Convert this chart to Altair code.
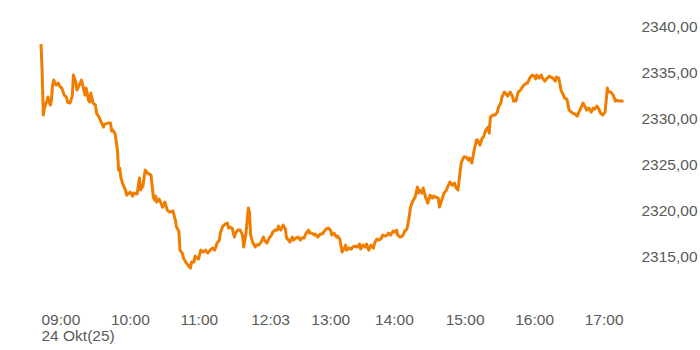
import altair as alt
import pandas as pd

# minutes of trading session since 09:00 (index of observation) and price
minutes = [0, 1, 2, 3, 5, 6, 8, 9, 10, 11, 13, 15, 16, 18, 20, 22, 23, 25, 27, 28,
           30, 31, 33, 35, 36, 38, 39, 41, 42, 43, 45, 47, 48, 50, 52, 54, 55, 58, 60, 61,
           62, 64, 66, 67, 68, 69, 71, 73, 74, 77,
           79, 80, 83, 85, 86, 88, 90, 92, 95, 97, 98, 99, 100, 102, 104, 105, 107, 109, 111, 114,
           116, 117, 119, 120, 122, 123, 125, 127, 129, 130, 132, 133, 135, 136, 138, 140, 142, 144, 146, 148,
           150, 152, 154, 155, 157, 159, 161, 162,
           163, 165, 167, 168, 170, 172, 174, 175, 177, 179, 180, 181, 183, 185, 186, 188, 190, 192, 193, 195,
           197, 199, 200, 202, 204, 205, 207, 209, 211, 212, 213, 215, 217, 218, 220, 222, 224, 225, 227, 229,
           231, 232, 234, 236, 237, 239, 241, 243,
           244, 246, 248, 250, 251, 253, 255, 256, 258, 260, 262, 263, 264, 266, 268, 269, 271, 273, 275, 276,
           278, 280, 281, 283, 285, 287, 288, 290, 292, 294, 295, 297, 299, 300, 302, 304, 306, 307, 308, 310,
           312, 313, 314, 316, 318, 319, 321, 323, 325, 326,
           327, 329, 330, 332, 334, 336, 338, 339, 341, 343, 344, 346, 348, 350, 351, 353, 355, 357, 358, 360,
           362, 363, 365, 367, 369, 370, 372, 374, 376, 377, 379, 381, 382, 384, 386, 387, 388, 390, 392, 394,
           395, 397, 398, 400, 401, 403, 405, 407, 408, 410,
           412, 414, 415, 417, 419, 420, 422, 424, 426, 427, 428, 430, 432, 433, 435, 437, 439, 440, 442, 444,
           445, 447, 449, 451, 452, 454, 456, 458, 459, 461, 463, 464, 466, 468, 470, 471, 473, 475, 477, 478,
           480, 482, 483, 485, 487, 489, 490, 492, 494, 496, 497, 499, 501, 503]

prices = [2338.05, 2335.02, 2330.36, 2331.12, 2331.87, 2332.31, 2331.44, 2331.98, 2333.61, 2334.15,
          2333.61, 2333.82, 2333.50, 2333.28, 2332.52, 2332.31, 2331.77, 2331.66, 2332.42, 2334.69,
          2333.93, 2333.07, 2333.61, 2334.15, 2333.61, 2332.52, 2333.28, 2331.98, 2331.77, 2332.74,
          2331.66, 2331.44, 2330.57, 2330.14, 2329.60, 2329.06, 2329.38, 2329.49, 2329.49, 2328.62,
          2328.73, 2328.30, 2326.57, 2324.40, 2324.62, 2323.53, 2322.77, 2322.23, 2321.69, 2322.02,
          2321.58, 2321.91, 2321.80, 2323.53, 2322.23, 2322.67, 2324.40, 2324.07, 2323.86, 2321.47,
          2321.15, 2321.58, 2320.93, 2321.26, 2320.72, 2320.39, 2320.93, 2320.07, 2319.85, 2319.96,
          2318.98, 2318.22, 2317.79, 2315.73, 2315.41, 2314.87, 2314.43, 2314.11, 2313.78, 2314.43,
          2314.43, 2315.08, 2314.87, 2314.76, 2315.73, 2315.52, 2315.73, 2315.41, 2315.73, 2315.95,
          2315.73, 2316.49, 2316.82, 2317.68, 2318.33, 2318.55, 2318.66, 2318.12,
          2318.22, 2318.12, 2317.14, 2317.57, 2317.90, 2317.90, 2317.36, 2316.06, 2317.57, 2320.28,
          2319.85, 2317.36, 2316.49, 2316.06, 2316.27, 2316.27, 2316.60, 2317.14, 2316.82, 2316.49,
          2317.03, 2317.36, 2317.68, 2317.90, 2317.90, 2318.33, 2317.90, 2318.44, 2318.01, 2317.03,
          2316.92, 2316.60, 2317.14, 2316.82, 2317.03, 2317.14, 2316.82, 2317.03, 2317.03, 2317.57,
          2317.90, 2317.57, 2317.57, 2317.36, 2317.47, 2317.14, 2317.47, 2317.47,
          2317.68, 2318.01, 2318.12, 2317.90, 2317.36, 2317.57, 2317.14, 2317.25, 2316.92, 2315.52,
          2315.95, 2316.27, 2315.73, 2315.95, 2315.84, 2316.06, 2316.17, 2316.06, 2316.39, 2315.84,
          2316.27, 2316.06, 2316.39, 2315.73, 2316.27, 2315.95, 2316.49, 2316.92, 2316.82, 2317.03,
          2317.36, 2317.25, 2317.36, 2317.57, 2317.36, 2317.79, 2317.68, 2317.90, 2317.36, 2317.14,
          2317.25, 2317.47, 2317.79, 2318.01, 2319.41, 2320.39, 2321.04, 2321.47, 2322.56, 2321.91,
          2322.23, 2321.91, 2322.45, 2321.47, 2320.82, 2321.69, 2321.37, 2321.58, 2321.47, 2321.37,
          2320.39, 2321.15, 2321.91, 2322.23, 2322.56, 2323.10, 2322.77, 2322.99, 2322.56, 2322.23,
          2324.40, 2325.27, 2325.81, 2325.81, 2325.48, 2325.70, 2325.16, 2326.57, 2327.65, 2327.65,
          2327.11, 2327.87, 2327.97, 2328.73, 2329.06, 2328.41, 2330.14, 2330.36, 2330.36, 2330.68,
          2331.22, 2331.66, 2332.31, 2332.85, 2332.74, 2332.42, 2332.85, 2332.42, 2331.87, 2331.87,
          2332.85, 2333.07, 2333.28, 2333.61, 2333.82, 2333.82, 2334.37, 2334.69, 2334.58, 2334.26,
          2334.69, 2334.37, 2334.69, 2334.37, 2334.04, 2334.37, 2334.58, 2334.47, 2334.37, 2334.04,
          2334.47, 2334.37, 2333.07, 2332.52, 2332.20, 2332.09, 2330.90, 2330.68, 2330.57, 2330.47,
          2330.25, 2330.57, 2331.12, 2331.66, 2331.22, 2330.90, 2331.12, 2330.68, 2331.12, 2331.01,
          2331.33, 2330.90, 2330.57, 2330.36, 2330.68, 2333.28, 2332.85, 2332.85, 2332.52, 2331.87,
          2331.98, 2331.87, 2331.87, 2331.87]

tick_minutes = [0, 60, 120, 181, 233, 288, 349, 409, 469]
tick_labels = ["09:00", "10:00", "11:00", "12:03", "13:00", "14:00", "15:00", "16:00", "17:00"]
date_label = "24 Okt(25)"
y_ticks = [2315, 2320, 2325, 2330, 2335, 2340]

df = pd.DataFrame({"m": minutes, "price": prices})

# label expression built from the tick lists
expr = "''"
for i in range(len(tick_minutes) - 1, -1, -1):
    if i == 0:
        lab = "['%s', '%s']" % (tick_labels[i], date_label)
    else:
        lab = "'%s'" % tick_labels[i]
    expr = "datum.value == %d ? %s : (%s)" % (tick_minutes[i], lab, expr)

FONT = "Liberation Sans"
GREY = "#5a5a5a"

chart = alt.Chart(df).mark_line(
    color="#f07d00", strokeWidth=3, interpolate="linear", strokeJoin="round"
).encode(
    x=alt.X("m:Q",
            scale=alt.Scale(domain=[0, 509.4], nice=False, zero=False),
            axis=alt.Axis(values=tick_minutes, labelExpr=expr, title=None,
                          grid=False, domain=False, ticks=False,
                          labelAlign="left", labelBaseline="alphabetic",
                          labelPadding=21, labelFont=FONT, labelFontSize=15.5,
                          labelColor=GREY, labelOverlap=False, labelFlush=False,
                          labelLineHeight=16)),
    y=alt.Y("price:Q",
            scale=alt.Scale(domain=[2310, 2342.5], nice=False, zero=False),
            axis=alt.Axis(orient="right", values=y_ticks,
                          labelExpr="replace(format(datum.value, '.2f'), '.', ',')",
                          title=None, grid=False, domain=False, ticks=False,
                          labelAlign="left", labelBaseline="middle",
                          labelPadding=10, labelFont=FONT, labelFontSize=15.5,
                          labelColor=GREY, labelOverlap=False, labelFlush=False)),
).properties(
    width=590, height=300,
    autosize=alt.AutoSizeParams(type="none"),
    padding={"left": 41, "top": 3, "right": 69, "bottom": 47},
    background="white",
).configure_view(stroke=None)

chart.save("out.html", embed_options={"renderer": "svg", "actions": False})
